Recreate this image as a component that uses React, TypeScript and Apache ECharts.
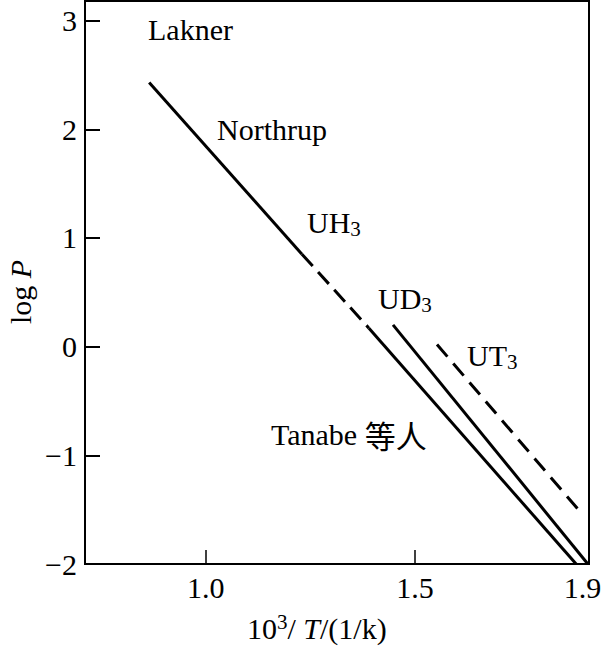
import React, { useEffect, useRef } from "react";
import * as echarts from "echarts";

// Data (x = 10^3/T, y = log P)
const uh3SolidUpper: number[][] = [[0.865, 2.43], [1.23, 0.85]];
const uh3Dashed: number[][] = [[1.23, 0.85], [1.39, 0.17]];
const uh3SolidLower: number[][] = [[1.39, 0.17], [1.885, -2.0]];
const ud3Line: number[][] = [[1.4475, 0.2], [1.913, -2.0]];
const ut3Line: number[][] = [[1.5526, 0.02], [1.9014, -1.55]];

const xTickValues = [1.0, 1.5];
const xLabelValues = [1.0, 1.5, 1.9];
const yTickValues = [-2, -1, 0, 1, 2, 3];

const SERIF = "'Liberation Serif', 'Times New Roman', serif";
const CJK = "'Noto Sans CJK SC', sans-serif";

const rich = {
  n: { fontFamily: SERIF, fontSize: 30, lineHeight: 34, color: "#000" },
  i: { fontFamily: SERIF, fontSize: 30, lineHeight: 34, fontStyle: "italic", color: "#000" },
  sub: { fontFamily: SERIF, fontSize: 21, lineHeight: 20, verticalAlign: "bottom", color: "#000" },
  sup: { fontFamily: SERIF, fontSize: 21, lineHeight: 20, verticalAlign: "top", color: "#000" },
  c: { fontFamily: CJK, fontSize: 31, lineHeight: 34, color: "#000" },
};

function label(text: string, x: number, y: number, extra: any = {}) {
  return {
    type: "text",
    x,
    y,
    ...extra,
    style: {
      text,
      rich,
      align: extra.align || "left",
      verticalAlign: "middle",
      fill: "#000",
    },
  };
}

export default function App() {
  const ref = useRef<HTMLDivElement>(null);
  useEffect(() => {
    if (!ref.current) return;
    const chart = echarts.init(ref.current, undefined, { renderer: "svg" });
    const lineSeries = (data: number[][], type: any) => ({
      type: "line",
      data,
      symbol: "none",
      showSymbol: false,
      lineStyle: { color: "#000", width: 3, type },
      silent: true,
    });
    chart.setOption({
      animation: false,
      backgroundColor: "#fff",
      grid: {
        left: 85,
        right: 19,
        top: 1,
        bottom: 91,
        show: true,
        borderColor: "#000",
        borderWidth: 2,
      },
      xAxis: {
        type: "value",
        min: 0.7117,
        max: 1.9157,
        axisLine: { show: true, onZero: false, lineStyle: { color: "#000", width: 2 } },
        axisTick: {
          show: true,
          inside: true,
          length: 14,
          customValues: xTickValues,
          lineStyle: { color: "#000", width: 1.5 },
        },
        axisLabel: {
          customValues: xLabelValues,
          formatter: (v: number) => v.toFixed(1),
          fontFamily: SERIF,
          fontSize: 30,
          color: "#000",
          margin: 8,
        },
        splitLine: { show: false },
      },
      yAxis: {
        type: "value",
        min: -2,
        max: 3.18,
        axisLine: { show: true, onZero: false, lineStyle: { color: "#000", width: 2 } },
        axisTick: {
          show: true,
          inside: true,
          length: 15,
          customValues: yTickValues,
          lineStyle: { color: "#000", width: 2 },
        },
        axisLabel: {
          customValues: yTickValues,
          formatter: (v: number) => String(v).replace("-", "\u2212"),
          fontFamily: SERIF,
          fontSize: 30,
          color: "#000",
          margin: 8,
        },
        splitLine: { show: false },
      },
      series: [
        lineSeries(uh3SolidUpper, "solid"),
        lineSeries(uh3Dashed, [16, 8]),
        lineSeries(uh3SolidLower, "solid"),
        lineSeries(ud3Line, "solid"),
        lineSeries(ut3Line, [16, 9]),
      ],
      graphic: [
        label("{n|Lakner}", 148, 29),
        label("{n|Northrup}", 217, 129),
        label("{n|UH}{sub|3}", 307, 222),
        label("{n|UD}{sub|3}", 378, 298),
        label("{n|UT}{sub|3}", 467, 355),
        label("{n|Tanabe }{c|等人}", 271, 434),
        label("{n|10}{sup|3}{n|/ }{i|T}{n|/(1/k)}", 247, 628),
        label("{n|log }{i|P}", 20, 292, { rotation: Math.PI / 2, align: "center" }),
      ],
    });
    return () => chart.dispose();
  }, []);
  return (
    <div
      ref={ref}
      style={{ position: "absolute", left: 0, top: 0, width: 608, height: 655 }}
    />
  );
}
